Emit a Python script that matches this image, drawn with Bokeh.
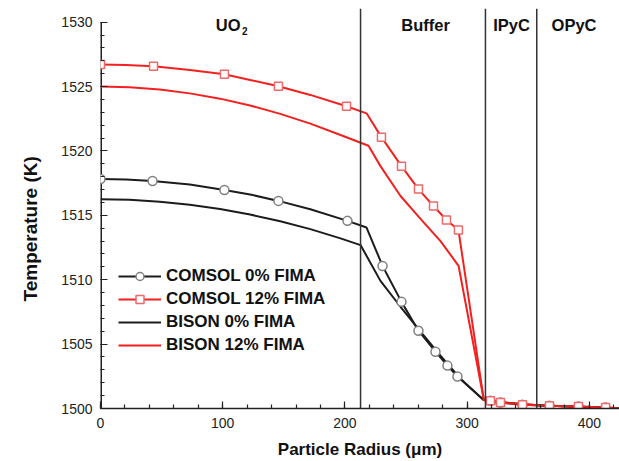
from bokeh.plotting import figure
from bokeh.models import Span, Label, Range1d, FixedTicker, Legend, LegendItem, Title
from bokeh.embed import file_html
from bokeh.resources import INLINE

# ---- data (radius in micrometres, temperature in K) ----
comsol0_line_r = [0, 20.9, 42.6, 73.1, 101.4, 122.4, 145.6, 171.7, 202.1, 217.7, 230.8, 246.3, 260.2,
                  274.1, 283.9, 292.1, 313.7, 319.1, 327.3, 345.3, 367.4, 391.1, 413.3, 424.2]
comsol0_line_t = [1517.82, 1517.78, 1517.66, 1517.39, 1516.97, 1516.62, 1516.12, 1515.47, 1514.57,
                  1514.05, 1511.07, 1508.28, 1506.04, 1504.41, 1503.33, 1502.48, 1500.65, 1500.60,
                  1500.46, 1500.30, 1500.22, 1500.15, 1500.07, 1500.02]
comsol0_mark_r = [0, 42.6, 101.4, 145.6, 202.1, 230.8, 246.3, 260.2, 274.1, 283.9, 292.1,
                  319.1, 327.3, 345.3, 367.4, 391.1, 413.3]
comsol0_mark_t = [1517.82, 1517.66, 1516.97, 1516.12, 1514.57, 1511.07, 1508.28, 1506.04, 1504.41,
                  1503.33, 1502.48, 1500.60, 1500.46, 1500.30, 1500.22, 1500.15, 1500.07]

comsol12_line_r = [0, 20.9, 43.4, 73.1, 101.4, 122.4, 145.6, 171.7, 201.3, 217.7, 229.9, 246.3, 260.2,
                   272.5, 283.1, 292.9, 313.7, 319.1, 327.3, 345.3, 367.4, 391.1, 413.3, 424.2]
comsol12_line_t = [1526.72, 1526.68, 1526.57, 1526.29, 1525.95, 1525.51, 1525.02, 1524.35, 1523.47,
                   1522.92, 1521.07, 1518.82, 1517.04, 1515.72, 1514.64, 1513.86, 1500.65, 1500.60,
                   1500.46, 1500.30, 1500.22, 1500.15, 1500.07, 1500.02]
comsol12_mark_r = [0, 43.4, 101.4, 145.6, 201.3, 229.9, 246.3, 260.2, 272.5, 283.1, 292.9,
                   319.1, 327.3, 345.3, 367.4, 391.1, 413.3]
comsol12_mark_t = [1526.72, 1526.57, 1525.95, 1525.02, 1523.47, 1521.07, 1518.82, 1517.04, 1515.72,
                   1514.64, 1513.86, 1500.60, 1500.46, 1500.30, 1500.22, 1500.15, 1500.07]

bison0_r = [0, 23.8, 48.5, 73.1, 97.8, 122.4, 147.1, 171.7, 196.4, 212.8, 229.1, 245.5, 261.9,
            278.2, 294.6, 313.7, 334.4, 358.1, 393.6, 424.2]
bison0_t = [1516.25, 1516.20, 1516.06, 1515.82, 1515.49, 1515.06, 1514.54, 1513.93, 1513.21,
            1512.69, 1509.91, 1507.90, 1505.96, 1504.10, 1502.32, 1500.65, 1500.42, 1500.26,
            1500.12, 1500.02]

bison12_r = [0, 23.8, 48.5, 73.1, 97.8, 122.4, 147.1, 171.7, 196.4, 219.3, 229.1, 245.5, 261.9,
             278.2, 293.0, 313.7, 334.4, 358.1, 393.6, 424.2]
bison12_t = [1525.00, 1524.94, 1524.77, 1524.47, 1524.06, 1523.53, 1522.88, 1522.12, 1521.24,
             1520.40, 1518.82, 1516.50, 1514.72, 1513.00, 1511.08, 1500.65, 1500.42, 1500.26,
             1500.12, 1500.02]

layer_bounds = [212.8, 315.0, 357.0]
layer_names = ["Buffer", "IPyC", "OPyC"]
layer_label_x = [266.0, 336.3, 387.5]

x_major = [0, 100, 200, 300, 400]
x_minor = list(range(0, 440, 20))
y_major = [1500, 1505, 1510, 1515, 1520, 1525, 1530]
y_minor = list(range(1500, 1531, 1))

RED = "#f2211f"
BLACK = "#1c1c1c"
AXIS = "#222222"
FONT = "Liberation Sans"

p = figure(width=619, height=461, x_range=Range1d(0, 424.7), y_range=Range1d(1500, 1531.06),
           output_backend="svg", toolbar_location=None,
           min_border_left=100, min_border_top=8, min_border_right=0, min_border_bottom=53)
p.outline_line_color = None
p.grid.visible = False
p.background_fill_color = "white"
p.border_fill_color = "white"

# layer boundaries
for b in layer_bounds:
    p.add_layout(Span(location=b, dimension="height", line_color="#333333", line_width=1.5))

# y axis line (only up to the top tick)
p.segment(x0=[x_major[0]], y0=[y_major[0]], x1=[x_major[0]], y1=[y_major[-1]],
          line_color=AXIS, line_width=3)

# series
r_b0 = p.line(bison0_r, bison0_t, line_color=BLACK, line_width=2)
r_b12 = p.line(bison12_r, bison12_t, line_color=RED, line_width=2)
r_c0l = p.line(comsol0_line_r, comsol0_line_t, line_color=BLACK, line_width=2)
r_c0m = p.scatter(comsol0_mark_r, comsol0_mark_t, marker="circle", size=9,
                  fill_color="white", line_color="#808080", line_width=1.5)
r_c12l = p.line(comsol12_line_r, comsol12_line_t, line_color=RED, line_width=2)
r_c12m = p.scatter(comsol12_mark_r, comsol12_mark_t, marker="square", size=8,
                   fill_color="white", line_color="#ec6a6a", line_width=1.5)

legend = Legend(items=[
    LegendItem(label="COMSOL 0% FIMA", renderers=[r_c0l, r_c0m]),
    LegendItem(label="COMSOL 12% FIMA", renderers=[r_c12l, r_c12m]),
    LegendItem(label="BISON 0% FIMA", renderers=[r_b0]),
    LegendItem(label="BISON 12% FIMA", renderers=[r_b12]),
], location=(18, 53))
legend.background_fill_alpha = 0
legend.border_line_alpha = 0
legend.padding = 0
legend.margin = 0
legend.spacing = 3
legend.glyph_width = 43
legend.glyph_height = 20
legend.label_height = 20
legend.label_standoff = 5
legend.label_text_font = FONT
legend.label_text_font_style = "bold"
legend.label_text_font_size = "17px"
legend.label_text_color = "#111111"
p.add_layout(legend)

# region labels
p.add_layout(Label(x=114.6, y=1529.78, text="UO", text_align="right", text_baseline="middle",
                   text_font=FONT, text_font_style="bold", text_font_size="16.5px", text_color="#111111"))
p.add_layout(Label(x=115.8, y=1529.3, text="2", text_align="left", text_baseline="middle",
                   text_font=FONT, text_font_style="bold", text_font_size="10px", text_color="#111111"))
for nm, lx in zip(layer_names, layer_label_x):
    p.add_layout(Label(x=lx, y=1529.78, text=nm, text_align="center", text_baseline="middle",
                       text_font=FONT, text_font_style="bold", text_font_size="16.5px",
                       text_color="#111111"))

# axes
for ax in (p.xaxis[0], p.yaxis[0]):
    ax.axis_line_color = AXIS
    ax.axis_line_width = 1.5
    ax.major_tick_line_color = AXIS
    ax.minor_tick_line_color = AXIS
    ax.major_tick_line_width = 1.2
    ax.minor_tick_line_width = 1.2
    ax.major_tick_in = 7
    ax.major_tick_out = 0
    ax.minor_tick_in = 4
    ax.minor_tick_out = 0
    ax.major_label_text_font = FONT
    ax.major_label_text_font_size = "14px"
    ax.major_label_text_color = AXIS
    ax.axis_label_text_font = FONT
    ax.axis_label_text_font_style = "bold"
    ax.axis_label_text_color = "#111111"

p.yaxis.axis_line_color = None
p.xaxis.axis_label_text_font_size = "17px"
p.xaxis.ticker = FixedTicker(ticks=x_major, minor_ticks=x_minor)
p.yaxis.ticker = FixedTicker(ticks=y_major, minor_ticks=y_minor)
p.xaxis.axis_label = "Particle Radius (μm)"
p.xaxis.major_label_standoff = 9
p.xaxis.axis_label_standoff = 9
p.yaxis.major_label_standoff = 8

ytitle = Title(text="Temperature (K)", align="left", offset=107, vertical_align="middle",
               text_font=FONT, text_font_style="bold", text_font_size="19px",
               text_color="#111111", standoff=34)
p.add_layout(ytitle, "left")

open("out.html", "w").write(file_html(p, INLINE))
